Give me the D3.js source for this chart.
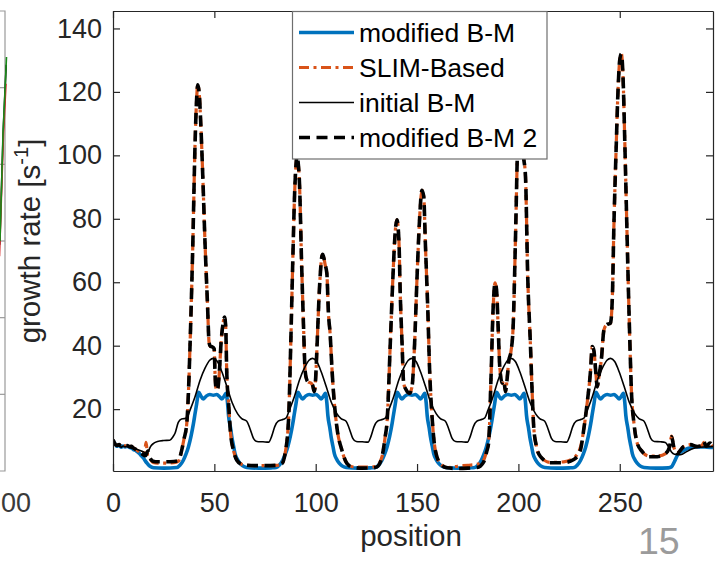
<!DOCTYPE html>
<html>
<head>
<meta charset="utf-8">
<script src="https://d3js.org/d3.v7.min.js"></script>
<style>
  body { margin: 0; background: #fff; }
  svg { display: block; font-family: 'Liberation Sans', Arial, Helvetica, sans-serif; }
</style>
</head>
<body>
<div id="chart"></div>
<script>
// ---- data ----
const ticksX = [0, 50, 100, 150, 200, 250];
const ticksY = [20, 40, 60, 80, 100, 120, 140];
const seriesNames = ['modified B-M', 'SLIM-Based', 'initial B-M', 'modified B-M 2'];

// [position, growth rate]
const modifiedBM = [
  [0,10.3],[1,9.1],[2,8.3],[3,8.6],[4,8.0],[5,8.4],[6,8.1],[7,8.3],[8,8.0],[9,7.8],[10,7.3],[11.5,6.8],[13,6.0],[14,5.3],[15,4.6],[16,3.6],[17,2.8],[18,2.1],[19,1.7],[20,1.5],[25,1.4],
  [31.5,1.6],[33,2.3],[34.7,3.9],[36,5.8],[37.2,8.1],[38.5,11.5],[39.7,15.5],[40.5,18.7],[41.3,21.8],[42.3,25.3],[43.3,24.2],[44.5,23.2],[46,24.1],[47.8,24.6],[49.5,24.4],[51.2,24.6],[52.6,23.9],[53.7,23.2],[55,24.3],[55.8,25],[56.5,22],[57,18],[58,14],[58.6,11.3],[59.5,8.3],[60.2,6],[61.5,4],[62.7,2.9],[64,2.1],[66,1.6],[72,1.4],[78,1.5],
  [80.5,1.6],[82,2.3],[83.7,3.9],[85,5.8],[86.2,8.1],[87.5,11.5],[88.7,15.5],[89.5,18.7],[90.3,21.8],[91.3,25.3],[92.3,24.2],[93.5,23.2],[95,24.1],[96.8,24.6],[98.5,24.4],[100.2,24.6],[101.6,23.9],[102.7,23.2],[104,24.3],[104.8,25],[105.5,22],[106,18],[107,14],[107.6,11.3],[108.5,8.3],[109.2,6],[110.5,4],[111.7,2.9],[113,2.1],[115,1.6],[121,1.4],[127,1.5],
  [129.5,1.6],[131,2.3],[132.7,3.9],[134,5.8],[135.2,8.1],[136.5,11.5],[137.7,15.5],[138.5,18.7],[139.3,21.8],[140.3,25.3],[141.3,24.2],[142.5,23.2],[144,24.1],[145.8,24.6],[147.5,24.4],[149.2,24.6],[150.6,23.9],[151.7,23.2],[153,24.3],[153.8,25],[154.5,22],[155,18],[156,14],[156.6,11.3],[157.5,8.3],[158.2,6],[159.5,4],[160.7,2.9],[162,2.1],[164,1.6],[170,1.4],[176,1.5],
  [178.5,1.6],[180,2.3],[181.7,3.9],[183,5.8],[184.2,8.1],[185.5,11.5],[186.7,15.5],[187.5,18.7],[188.3,21.8],[189.3,25.3],[190.3,24.2],[191.5,23.2],[193,24.1],[194.8,24.6],[196.5,24.4],[198.2,24.6],[199.6,23.9],[200.7,23.2],[202,24.3],[202.8,25],[203.5,22],[204,18],[205,14],[205.6,11.3],[206.5,8.3],[207.2,6],[208.5,4],[209.7,2.9],[211,2.1],[213,1.6],[219,1.4],[225,1.5],
  [227.5,1.6],[229,2.3],[230.7,3.9],[232,5.8],[233.2,8.1],[234.5,11.5],[235.7,15.5],[236.5,18.7],[237.3,21.8],[238.3,25.3],[239.3,24.2],[240.5,23.2],[242,24.1],[243.8,24.6],[245.5,24.4],[247.2,24.6],[248.6,23.9],[249.7,23.2],[251,24.3],[251.8,25],[252.5,22],[253,18],[254,14],[254.6,11.3],[255.5,8.3],[256.2,6],[257.5,4],[258.7,2.9],[260,2.1],[262,1.6],[268,1.4],
  [274,1.5],[275.5,1.8],[277,3.5],[278.5,5.5],[281,6.8],[283.5,7.6],[286.5,8],[290,8.1],[293,8],[296,7.9]
];

const slimBased = [
  [0,10.3],[1,9],[2,8.6],[3,8.8],[4,8.3],[5,8.6],[6,8.4],[7,8.5],[8,8.2],[9,8.3],[10,7.8],[11.5,7.2],[13,6.5],[14.5,6],[15.6,6.5],[16.3,9.5],[17.1,5.2],[18,4.5],[19.8,3.2],[22,3.0],[26,3.0],[30,3.1],[32.3,3.6],[33.9,7.1],[35,10.5],[36.4,15.5],[37.2,25],[38,40],[39.3,70],[40.5,104],[41.2,117],[41.8,122.2],[42.6,119],[43.3,110],[44.3,93.3],[45.4,72.3],[46.6,53.4],[47.4,41],[48,39.8],[49,39.6],[49.9,39],[50.4,30],[51,26],[51.7,26.5],[52.5,32],[53.3,40.8],[54.3,47],[55,49],[55.6,46],[56.1,32],[57,22],[58,12.4],[59.4,7.1],[61.1,3.9],[63.5,2.6],[66,2.3],[70,2.2],[75,2.2],[80.8,2.3],[83.3,2.8],[84.9,6],[86.6,16.6],[87.7,40.8],[88.7,67],[89.6,88],[90.4,98],[90.8,100],[91.3,98],[92,91.2],[93,67],[94,46],[94.8,32],[95.6,29.2],[96.4,28.5],[97.5,28.3],[98.5,27.5],[99.3,25.5],[100,30],[100.6,39],[101.9,58.6],[103,68],[103.5,68.8],[104.7,65.4],[105.5,62.8],[106.3,50],[107.1,43.9],[108,33],[108.7,26],[110.4,14.5],[112.9,7.1],[115.4,2.9],[118.6,1.8],[123,1.7],[128,1.8],
  [130.2,2.1],[132.7,5],[134.3,11.4],[135.2,16],[136.8,40.8],[138.1,61.7],[139.3,76.5],[140.1,79.7],[141.1,72.3],[141.7,56.5],[142.6,40.8],[143.4,28.2],[144.7,26],[146.3,25],[147.5,27],[148.8,40.8],[150,61.7],[151.3,80.6],[152.4,89],[153.3,87],[154.1,72.3],[155.3,51.3],[156.2,32.3],[157.4,17.6],[158.5,9.3],[159.8,5],[162.3,2.3],[164.7,1.6],[170,2.0],[175,2.3],[179.6,2.6],[182.9,4],[184.3,6.8],[185.3,9.5],[186.5,30.2],[187.5,51.3],[188.5,59.8],[189.2,57.7],[190,46],[190.8,33.4],[192,28.2],[192.8,29],[193.6,25.5],[194.5,30],[195.2,35],[196.3,38],[197.4,46],[198.5,72.3],[199.7,105],[200.6,114],[201.5,112],[202.5,100],[203.5,93.3],[204.6,61.7],[205.9,40.8],[206.8,25],[207.6,14],[209,8],[210.9,5],[215.8,3.2],[222.4,3.4],[227.3,4.6],[230.6,8],[232.2,13.4],[233.9,21.8],[235.6,32.3],[236.4,39.7],[237.2,38.6],[238.1,32.3],[238.9,27],[239.7,30.2],[240.9,35.5],[242.2,45],[243.5,46.6],[245.4,47.1],[246.3,54.4],[247.1,77.6],[248.3,103.9],[249.1,119.7],[250,130.1],[250.8,132],[251.6,124.9],[252.5,103.9],[253.3,82.9],[254.1,61.9],[255,40.8],[255.8,25],[257,15.6],[258.6,9.3],[261.1,6.6],[264.4,5.2],[268.5,5.2],[272.6,6],[274.5,8],[275.6,11.5],[276.6,8.2],[278.2,6.2],[281.5,8.2],[284.9,8.8],[288.2,8.2],[290.5,8.5],[291.5,9.5],[292.5,8.3],[294.5,9.3],[296,8.2]
];

const initialBM = [
  [0,10.3],[1,9],[2,8.2],[3,8.5],[4,8],[5,8.4],[6,8.1],[7,8.3],[8,7.9],[10,7.6],[12,7.3],[14,6.8],[15.5,6.3],[16.5,5.6],[17.5,6.8],[18.5,8.2],[20,9.2],[22,9.8],[25,10.1],[28,10.2],[29.5,11.2],[30.6,12.4],[32.2,15.8],[33.8,16.9],[35.2,17],
  [36.5,17.3],[38,19.7],[40.5,24],[43,29.2],[45.4,32.9],[47.7,35.4],[49.5,36],[51.5,35],[53.7,31.8],[56.1,27.3],[58.8,22],[61.5,18.5],[63.5,17],[66,16.2],[67.5,14],[69.3,10.8],[71,9.8],[74,9.7],[76.8,9.6],[78.3,11.5],[79.8,14.5],[81.5,16.2],[84.1,16.8],
  [85.5,17.3],[87,19.7],[89.5,24],[92,29.2],[94.4,32.9],[96.7,35.4],[98.5,36],[100.5,35],[102.7,31.8],[105.1,27.3],[107.8,22],[110.5,18.5],[112.5,17],[115,16.2],[116.5,14],[118.3,10.8],[120,9.8],[123,9.7],[125.8,9.6],[127.3,11.5],[128.8,14.5],[130.5,16.2],[133.1,16.8],
  [134.5,17.3],[136,19.7],[138.5,24],[141,29.2],[143.4,32.9],[145.7,35.4],[147.5,36],[149.5,35],[151.7,31.8],[154.1,27.3],[156.8,22],[159.5,18.5],[161.5,17],[164,16.2],[165.5,14],[167.3,10.8],[169,9.8],[172,9.7],[174.8,9.6],[176.3,11.5],[177.8,14.5],[179.5,16.2],[182.1,16.8],
  [183.5,17.3],[185,19.7],[187.5,24],[190,29.2],[192.4,32.9],[194.7,35.4],[196.5,36],[198.5,35],[200.7,31.8],[203.1,27.3],[205.8,22],[208.5,18.5],[210.5,17],[213,16.2],[214.5,14],[216.3,10.8],[218,9.8],[221,9.7],[223.8,9.6],[225.3,11.5],[226.8,14.5],[228.5,16.2],[231.1,16.8],
  [232.5,17.3],[234,19.7],[236.5,24],[239,29.2],[241.4,32.9],[243.7,35.4],[245.5,36],[247.5,35],[249.7,31.8],[252.1,27.3],[254.8,22],[257.5,18.5],[259.5,17],[262,16.2],[263.5,14],[265.3,10.8],[267,9.8],[270,9.7],[272.5,9.5],
  [274,8.2],[275.5,6.5],[277,5.8],[280,5.6],[283,6.6],[285.5,7.4],[289,8],[293,8.1],[296,8.2]
];

const modifiedBM2 = [
  [0,10.3],[1,9],[2,8.6],[3,8.8],[4,8.3],[5,8.6],[6,8.4],[7,8.5],[8,8.2],[9,8.3],[10,7.8],[11.5,7.2],[13,6.5],[14.5,5.8],[16,5.3],[17.2,6.8],[18,5],[18.8,4.1],[19.8,3.6],[22,3.4],[26,3.4],[30,3.5],[32.3,3.8],[33.9,7.1],[35,10.5],[36.4,15.5],[37.2,25],[38,40],[39.3,70],[40.5,104],[41.2,117],[41.8,122.2],[42.6,119],[43.3,110],[44.3,93.3],[45.4,72.3],[46.6,53.4],[47.4,41],[48,39.8],[49,39.6],[49.9,39],[50.4,30],[51,26],[51.7,26.5],[52.5,32],[53.3,40.8],[54.3,47],[55,49],[55.6,46],[56.1,32],[57,22],[58,12.4],[59.4,7.1],[61.1,3.9],[63.5,2.6],[66,2.3],[70,2.2],[75,2.2],[80.8,2.3],[83.3,2.8],[84.9,6],[86.6,16.6],[87.7,40.8],[88.7,67],[89.6,88],[90.4,98],[90.8,100],[91.3,98],[92,91.2],[93,67],[94,46],[94.8,32],[95.6,29.2],[96.4,28.5],[97.5,28.3],[98.5,27.5],[99.3,25.5],[100,30],[100.6,39],[101.9,58.6],[103,68],[103.5,68.8],[104.7,65.4],[105.5,62.8],[106.3,50],[107.1,43.9],[108,33],[108.7,26],[110.4,14.5],[112.9,7.1],[115.4,2.9],[118.6,1.6],[123,1.4],[128,1.5],
  [130.2,1.8],[132.7,5],[134.3,11.4],[135.2,16],[136.8,40.8],[138.1,61.7],[139.3,76.5],[140.1,79.7],[141.1,72.3],[141.7,56.5],[142.6,40.8],[143.4,28.2],[144.7,26],[146.3,25],[147.5,27],[148.8,40.8],[150,61.7],[151.3,80.6],[152.4,89],[153.3,87],[154.1,72.3],[155.3,51.3],[156.2,32.3],[157.4,17.6],[158.5,9.3],[159.8,5],[162.3,2.3],[164.7,1.5],[170,1.3],[175,1.4],[179.6,1.6],[182.9,3.4],[184.3,6.5],[185.3,9.3],[186.5,30.2],[187.5,51.3],[188.5,59.8],[189.2,57.7],[190,46],[190.8,33.4],[192,28.2],[192.8,29],[193.6,25.5],[194.5,30],[195.2,35],[196.3,38],[197.4,46],[198.5,72.3],[199.7,105],[200.6,114],[201.5,112],[202.5,100],[203.5,93.3],[204.6,61.7],[205.9,40.8],[206.8,25],[207.6,14],[209,8],[210.9,5],[215.8,3.1],[222.4,3.1],[227.3,4.1],[230.6,7.1],[232.2,13.4],[233.9,21.8],[235.6,32.3],[236.4,39.7],[237.2,38.6],[238.1,32.3],[238.9,27],[239.7,30.2],[240.9,35.5],[242.2,45],[243.5,46.6],[245.4,47.1],[246.3,54.4],[247.1,77.6],[248.3,103.9],[249.1,119.7],[250,130.1],[250.8,132],[251.6,124.9],[252.5,103.9],[253.3,82.9],[254.1,61.9],[255,40.8],[255.8,25],[257,15.6],[258.6,9.3],[261.1,6.6],[264.4,5],[268.5,5],[272.6,6],[274.5,8],[275.6,11.3],[276.6,8.2],[278.2,6],[281.5,8.2],[284.9,8.8],[288.2,8.2],[290.5,8.5],[291.5,9.8],[292.5,8.3],[294.5,9.3],[296,8.2]
];

// cut-off neighbouring panel on the far left
const leftTicksY = [1, 2, 3, 4, 5];
const leftTickLabel = '00';
const leftGreen = [[99.0,3.0],[99.6,4.4],[100.3,5.4]];
const leftRed = [[98.9,2.8],[99.7,4.4],[100.2,5.05]];
const leftBlack = [[98.95,2.95],[99.65,4.45],[100.25,5.3]];

// ---- layout ----
const width = 718, height = 563;
const plotL = 113, plotR = 713, plotT = 11, plotB = 471;
const axisColor = '#262626';
const font = "'Liberation Sans', Arial, Helvetica, sans-serif";

const svg = d3.select('#chart').append('svg')
  .attr('width', width)
  .attr('height', height);

const x = d3.scaleLinear().domain([0, 296]).range([plotL, plotR]);
const y = d3.scaleLinear().domain([0.5, 145.5]).range([plotB, plotT]);

// left fragment
const lx = d3.scaleLinear().domain([0, 100]).range([-495, 5]);
const ly = d3.scaleLinear().domain([0, 6]).range([plotB, plotT]);
const lg = svg.append('g');
lg.append('path')
  .attr('d', `M-2,${plotT}H${lx(100)}V${plotB}H-2`)
  .attr('fill', 'none').attr('stroke', '#9a9a9a').attr('stroke-width', 1.2);
lg.selectAll('line.lt').data(leftTicksY).join('line')
  .attr('x1', -2).attr('x2', lx(100))
  .attr('y1', d => ly(d)).attr('y2', d => ly(d))
  .attr('stroke', '#9a9a9a').attr('stroke-width', 1.2);
const lline = d3.line().x(d => lx(d[0])).y(d => ly(d[1]));
[[leftBlack, '#111'], [leftRed, '#d62728'], [leftGreen, '#1a8a1a']].forEach(([data, c]) => {
  lg.append('path').attr('d', lline(data)).attr('fill', 'none')
    .attr('stroke', c).attr('stroke-width', 1.6);
});
lg.append('text')
  .attr('x', 1).attr('y', 512)
  .attr('font-size', 27).attr('fill', '#3a3a3a')
  .text(leftTickLabel);

// clip for the series
svg.append('clipPath').attr('id', 'plotclip')
  .append('rect').attr('x', plotL).attr('y', plotT)
  .attr('width', plotR - plotL).attr('height', plotB - plotT);

const line = d3.line()
  .x(d => x(d[0]))
  .y(d => y(d[1]))
  .curve(d3.curveMonotoneX);

const styles = [
  { data: modifiedBM, color: '#0072BD', width: 3.6, dash: null },
  { data: slimBased, color: '#D95319', width: 3.2, dash: '10,4.5,3,4.5' },
  { data: initialBM, color: '#000000', width: 1.6, dash: null },
  { data: modifiedBM2, color: '#000000', width: 3.6, dash: '11,6.5' }
];

const plot = svg.append('g').attr('clip-path', 'url(#plotclip)');
plot.selectAll('path.series')
  .data(styles)
  .join('path')
  .attr('class', 'series')
  .attr('d', d => line(d.data))
  .attr('fill', 'none')
  .attr('stroke', d => d.color)
  .attr('stroke-width', d => d.width)
  .attr('stroke-dasharray', d => d.dash)
  .attr('stroke-linejoin', 'round');

// axes (box with inward ticks)
function styleAxis(g) {
  g.attr('font-family', font).attr('font-size', 27);
  g.select('.domain').attr('stroke', axisColor).attr('stroke-width', 1.2);
  g.selectAll('.tick line').attr('stroke', axisColor).attr('stroke-width', 1.2);
  g.selectAll('.tick text').attr('fill', axisColor);
}

svg.append('g')
  .attr('transform', `translate(0,${plotB})`)
  .call(d3.axisBottom(x).tickValues(ticksX).tickSize(-7).tickSizeOuter(0).tickPadding(22))
  .call(styleAxis);

svg.append('g')
  .attr('transform', `translate(0,${plotT})`)
  .call(d3.axisTop(x).tickValues(ticksX).tickSize(-7).tickSizeOuter(0).tickFormat(''))
  .call(styleAxis);

svg.append('g')
  .attr('transform', `translate(${plotL},0)`)
  .call(d3.axisLeft(y).tickValues(ticksY).tickSize(-7).tickSizeOuter(0).tickPadding(11))
  .call(styleAxis);

svg.append('g')
  .attr('transform', `translate(${plotR},0)`)
  .call(d3.axisRight(y).tickValues(ticksY).tickSize(-7).tickSizeOuter(0).tickFormat(''))
  .call(styleAxis);

// axis labels
svg.append('text')
  .attr('x', (plotL + plotR) / 2 - 2).attr('y', 546)
  .attr('text-anchor', 'middle')
  .attr('font-size', 29.5).attr('fill', axisColor)
  .text('position');

const yl = svg.append('text')
  .attr('transform', `translate(40,${(plotT + plotB) / 2}) rotate(-90)`)
  .attr('text-anchor', 'middle')
  .attr('font-size', 29.5).attr('fill', axisColor);
yl.append('tspan').text('growth rate [s');
yl.append('tspan').attr('font-size', 20).attr('dy', -12).text('-1');
yl.append('tspan').attr('dy', 12).text(']');

// legend
const legend = svg.append('g');
legend.append('rect')
  .attr('x', 292.5).attr('y', 11.5)
  .attr('width', 254.5).attr('height', 147.5)
  .attr('fill', '#fff').attr('stroke', '#6e6e6e').attr('stroke-width', 1.2);

const rows = legend.selectAll('g.row')
  .data(styles)
  .join('g')
  .attr('class', 'row')
  .attr('transform', (d, i) => `translate(0,${32.5 + i * 35})`);
rows.append('line')
  .attr('x1', 299).attr('x2', 354)
  .attr('stroke', d => d.color)
  .attr('stroke-width', d => d.width)
  .attr('stroke-dasharray', d => d.dash);
rows.append('text')
  .attr('x', 359).attr('y', 9.5)
  .attr('font-size', 26.5).attr('fill', '#000')
  .text((d, i) => seriesNames[i]);

// slide page number
svg.append('text')
  .attr('x', 638).attr('y', 554)
  .attr('font-size', 37.5).attr('fill', '#9b9b9b')
  .text('15');
</script>
</body>
</html>
